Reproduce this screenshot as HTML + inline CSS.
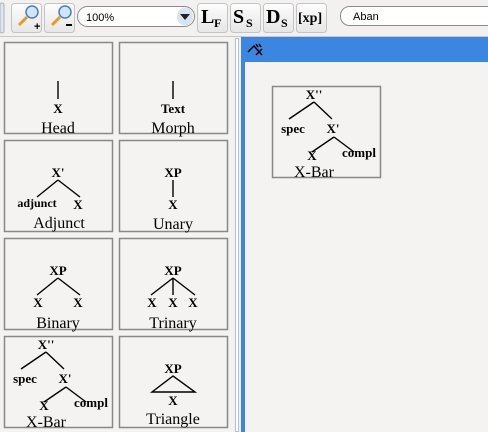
<!DOCTYPE html>
<html><head><style>
body{margin:0;width:488px;height:432px;overflow:hidden;background:#f4f3f2;font-family:"Liberation Serif",serif}
svg{position:absolute;left:0;top:0}
</style></head><body>
<svg width="488" height="432" viewBox="0 0 488 432">
<defs>
<linearGradient id="btn" x1="0" y1="0" x2="0" y2="1"><stop offset="0" stop-color="#fdfdfd"/><stop offset="1" stop-color="#e6e6e6"/></linearGradient>
<g id="xbar">
<rect x="0.5" y="0.5" width="108" height="91" fill="#f4f3f2" stroke="#888" stroke-width="1.5"/>
<g font-family="Liberation Serif" font-weight="bold" font-size="13" text-anchor="middle" fill="#000">
<text x="42" y="13">X''</text>
<text x="21" y="47">spec</text>
<text x="61" y="47">X'</text>
<text x="40" y="74">X</text>
<text x="87" y="71">compl</text>
</g>
<g stroke="#000" stroke-width="1.4"><line x1="42" y1="16" x2="17" y2="33"/><line x1="42" y1="16" x2="60" y2="33"/><line x1="62" y1="51" x2="40" y2="66"/><line x1="62" y1="51" x2="82" y2="66"/></g>
<text x="42" y="91" font-size="16" text-anchor="middle">X-Bar</text>
</g>
</defs>
<rect x="0" y="0" width="488" height="36" fill="#f2f1f0"/>
<rect x="0" y="36" width="488" height="1" fill="#c8c8c8"/>
<rect x="0" y="3" width="4" height="30" rx="2" fill="#e0e6ee" stroke="#a8b0bc"/>
<rect x="11.5" y="3.5" width="30" height="29" rx="3" fill="url(#btn)" stroke="#c4c4c4"/>
<rect x="44.5" y="3.5" width="30" height="29" rx="3" fill="url(#btn)" stroke="#c4c4c4"/>
<circle cx="32" cy="12" r="6" fill="#cfe6f8" stroke="#4a7fb5" stroke-width="1.5"/>
<line x1="27" y1="17" x2="19" y2="25" stroke="#e89a20" stroke-width="3"/>
<text x="34" y="30" font-size="11" font-weight="bold" font-family="Liberation Sans">+</text>
<circle cx="65" cy="12" r="6" fill="#cfe6f8" stroke="#4a7fb5" stroke-width="1.5"/>
<line x1="60" y1="17" x2="52" y2="25" stroke="#e89a20" stroke-width="3"/>
<rect x="66" y="24" width="6" height="2" fill="#000"/>
<rect x="77.5" y="6.5" width="117" height="20" rx="10" fill="#fff" stroke="#8a8a8a"/>
<text x="86" y="21" font-family="Liberation Sans" font-size="11">100%</text>
<ellipse cx="185" cy="16.5" rx="8" ry="9" fill="#d8e4f0"/>
<path d="M180 14 L190 14 L185 20 Z" fill="#222"/>
<rect x="197.5" y="3.5" width="30" height="29" rx="3" fill="url(#btn)" stroke="#c4c4c4"/>
<rect x="230.5" y="3.5" width="30" height="29" rx="3" fill="url(#btn)" stroke="#c4c4c4"/>
<rect x="263.5" y="3.5" width="30" height="29" rx="3" fill="url(#btn)" stroke="#c4c4c4"/>
<rect x="296.5" y="3.5" width="30" height="29" rx="3" fill="url(#btn)" stroke="#c4c4c4"/>
<g font-family="Liberation Serif" font-weight="bold">
<text x="201" y="23" font-size="20">L</text><text x="214" y="27" font-size="12">F</text>
<text x="233" y="23" font-size="20">S</text><text x="246" y="27" font-size="12">S</text>
<text x="266" y="23" font-size="20">D</text><text x="281" y="27" font-size="12">S</text>
<text x="298" y="22" font-size="14">[xp]</text>
</g>
<rect x="340.5" y="6.5" width="160" height="19" rx="9" fill="#fff" stroke="#8a8a8a"/>
<text x="353" y="20" font-family="Liberation Sans" font-size="11">Aban</text>
<rect x="0" y="37" width="234" height="395" fill="#f4f3f2"/>
<rect x="234" y="37" width="7" height="395" fill="#eef0f4"/>
<rect x="235.5" y="38.5" width="3" height="393" fill="#fff" stroke="#b8c0cc"/>
<rect x="241" y="37" width="247" height="395" fill="#3a86e0"/>
<rect x="245" y="62" width="243" height="370" fill="#f4f3f2"/>
<g stroke="#000" stroke-width="1.5" fill="none"><path d="M248 52 L254 46 L262 55"/><line x1="256" y1="44" x2="258" y2="47"/><line x1="259" y1="44" x2="261" y2="47"/><line x1="256" y1="55" x2="262" y2="49"/></g>
<g transform="translate(4,42)">
<rect x="0.5" y="0.5" width="108" height="91" fill="#f4f3f2" stroke="#888" stroke-width="1.5"/>
<line x1="54" y1="39" x2="54" y2="57" stroke="#000" stroke-width="1.4"/>
<text x="54" y="71" font-size="13" font-weight="bold" text-anchor="middle">X</text>
<text x="54" y="91" font-size="16" text-anchor="middle">Head</text>
</g>
<g transform="translate(119,42)">
<rect x="0.5" y="0.5" width="108" height="91" fill="#f4f3f2" stroke="#888" stroke-width="1.5"/>
<line x1="54" y1="39" x2="54" y2="57" stroke="#000" stroke-width="1.4"/>
<text x="54" y="71" font-size="13" font-weight="bold" text-anchor="middle">Text</text>
<text x="54" y="91" font-size="16" text-anchor="middle">Morph</text>
</g>
<g transform="translate(4,140)">
<rect x="0.5" y="0.5" width="108" height="91" fill="#f4f3f2" stroke="#888" stroke-width="1.5"/>
<text x="54" y="37" font-size="13" font-weight="bold" text-anchor="middle">X'</text>
<line x1="54" y1="40" x2="33" y2="57" stroke="#000" stroke-width="1.4"/><line x1="54" y1="40" x2="76" y2="57" stroke="#000" stroke-width="1.4"/>
<text x="33" y="67" font-size="12" font-weight="bold" text-anchor="middle">adjunct</text>
<text x="74" y="69" font-size="13" font-weight="bold" text-anchor="middle">X</text>
<text x="55" y="88" font-size="16" text-anchor="middle">Adjunct</text>
</g>
<g transform="translate(119,140)">
<rect x="0.5" y="0.5" width="108" height="91" fill="#f4f3f2" stroke="#888" stroke-width="1.5"/>
<text x="54" y="37" font-size="13" font-weight="bold" text-anchor="middle">XP</text>
<line x1="54" y1="40" x2="54" y2="57" stroke="#000" stroke-width="1.4"/>
<text x="54" y="69" font-size="13" font-weight="bold" text-anchor="middle">X</text>
<text x="54" y="89" font-size="16" text-anchor="middle">Unary</text>
</g>
<g transform="translate(4,238)">
<rect x="0.5" y="0.5" width="108" height="91" fill="#f4f3f2" stroke="#888" stroke-width="1.5"/>
<text x="54" y="37" font-size="13" font-weight="bold" text-anchor="middle">XP</text>
<line x1="54" y1="40" x2="33" y2="57" stroke="#000" stroke-width="1.4"/><line x1="54" y1="40" x2="76" y2="57" stroke="#000" stroke-width="1.4"/>
<text x="34" y="69" font-size="13" font-weight="bold" text-anchor="middle">X</text>
<text x="74" y="69" font-size="13" font-weight="bold" text-anchor="middle">X</text>
<text x="54" y="90" font-size="16" text-anchor="middle">Binary</text>
</g>
<g transform="translate(119,238)">
<rect x="0.5" y="0.5" width="108" height="91" fill="#f4f3f2" stroke="#888" stroke-width="1.5"/>
<text x="54" y="37" font-size="13" font-weight="bold" text-anchor="middle">XP</text>
<line x1="54" y1="40" x2="32" y2="57" stroke="#000" stroke-width="1.4"/><line x1="54" y1="40" x2="54" y2="57" stroke="#000" stroke-width="1.4"/><line x1="54" y1="40" x2="76" y2="57" stroke="#000" stroke-width="1.4"/>
<text x="33" y="69" font-size="13" font-weight="bold" text-anchor="middle">X</text>
<text x="54" y="69" font-size="13" font-weight="bold" text-anchor="middle">X</text>
<text x="74" y="69" font-size="13" font-weight="bold" text-anchor="middle">X</text>
<text x="54" y="90" font-size="16" text-anchor="middle">Trinary</text>
</g>
<use href="#xbar" x="4" y="336"/>
<g transform="translate(119,336)">
<rect x="0.5" y="0.5" width="108" height="91" fill="#f4f3f2" stroke="#888" stroke-width="1.5"/>
<text x="54" y="37" font-size="13" font-weight="bold" text-anchor="middle">XP</text>
<path d="M54 40 L33 56 L76 56 Z" fill="none" stroke="#000" stroke-width="1.4"/>
<text x="54" y="69" font-size="13" font-weight="bold" text-anchor="middle">X</text>
<text x="54" y="88" font-size="16" text-anchor="middle">Triangle</text>
</g>
<use href="#xbar" x="272" y="86"/>
</svg>
</body></html>
